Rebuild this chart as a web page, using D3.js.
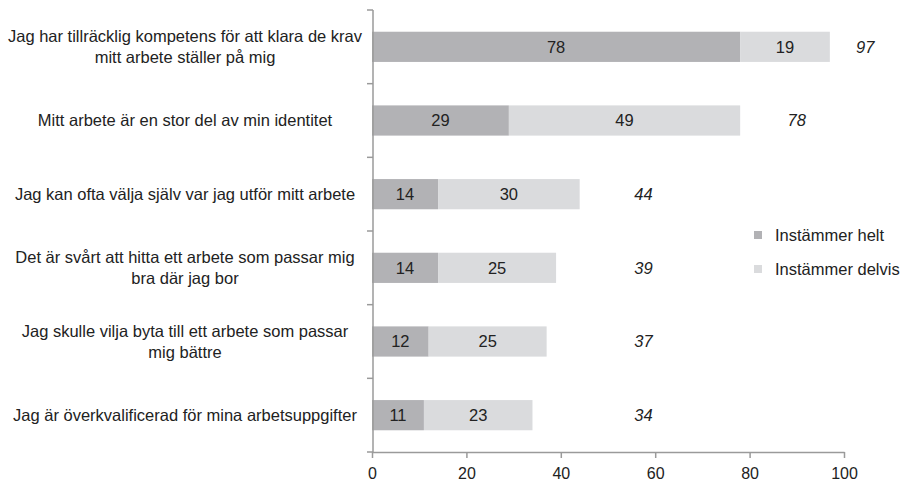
<!DOCTYPE html>
<meta charset="utf-8">
<script src="https://d3js.org/d3.v7.min.js"></script>
<style>
  body { margin: 0; background: #fff; }
  text { font-family: "Liberation Sans", Arial, sans-serif; }
</style>
<div id="chart"></div>
<script>
    // data
    var categories = [
        ["Jag har tillräcklig kompetens för att klara de krav", "mitt arbete ställer på mig"],
        ["Mitt arbete är en stor del av min identitet"],
        ["Jag kan ofta välja själv var jag utför mitt arbete"],
        ["Det är svårt att hitta ett arbete som passar mig", "bra där jag bor"],
        ["Jag skulle vilja byta till ett arbete som passar", "mig bättre"],
        ["Jag är överkvalificerad för mina arbetsuppgifter"]
    ];
    var helt = [78, 29, 14, 14, 12, 11];
    var delvis = [19, 49, 30, 25, 25, 23];
    var totals = [97, 78, 44, 39, 37, 34];
    var seriesNames = ["Instämmer helt", "Instämmer delvis"];
    var xTicks = [0, 20, 40, 60, 80, 100];

    var W = 901, H = 481;
    var colors = ["#b2b2b5", "#dadbdd"];
    var axisColor = "#9a9a9a";
    var textColor = "#222";
    var fs = "16.5px";

    var svg = d3.select("#chart").append("svg")
        .attr("width", W).attr("height", H);

    var x = d3.scaleLinear().domain([0, 100]).range([372, 844]);
    var y = d3.scaleBand()
        .domain(d3.range(categories.length))
        .range([10, 452])
        .paddingInner(0.59)
        .paddingOuter(0.295);

    var rows = d3.range(categories.length).map(function (i) {
        return { i: i, helt: helt[i], delvis: delvis[i], total: totals[i] };
    });

    // bars
    var g = svg.append("g");
    g.selectAll("rect.helt").data(rows).enter().append("rect")
        .attr("x", x(0))
        .attr("y", function (d) { return y(d.i); })
        .attr("width", function (d) { return x(d.helt) - x(0); })
        .attr("height", y.bandwidth())
        .attr("fill", colors[0]);
    g.selectAll("rect.delvis").data(rows).enter().append("rect")
        .attr("x", function (d) { return x(d.helt); })
        .attr("y", function (d) { return y(d.i); })
        .attr("width", function (d) { return x(d.helt + d.delvis) - x(d.helt); })
        .attr("height", y.bandwidth())
        .attr("fill", colors[1]);

    // value labels in the segments
    g.selectAll("text.v1").data(rows).enter().append("text")
        .attr("x", function (d) { return x(d.helt / 2); })
        .attr("y", function (d) { return y(d.i) + y.bandwidth() / 2; })
        .attr("dy", "0.35em")
        .attr("text-anchor", "middle")
        .style("font-size", fs).attr("fill", textColor)
        .text(function (d) { return d.helt; });
    g.selectAll("text.v2").data(rows).enter().append("text")
        .attr("x", function (d) { return x(d.helt + d.delvis / 2); })
        .attr("y", function (d) { return y(d.i) + y.bandwidth() / 2; })
        .attr("dy", "0.35em")
        .attr("text-anchor", "middle")
        .style("font-size", fs).attr("fill", textColor)
        .text(function (d) { return d.delvis; });

    // totals in italics, placed like the original labels
    var totalAt = [104.5, 90, 57.5, 57.5, 57.5, 57.5];
    g.selectAll("text.tot").data(rows).enter().append("text")
        .attr("x", function (d) { return x(totalAt[d.i]); })
        .attr("y", function (d) { return y(d.i) + y.bandwidth() / 2; })
        .attr("dy", "0.35em")
        .attr("text-anchor", "middle")
        .style("font-size", fs).style("font-style", "italic")
        .attr("fill", textColor)
        .text(function (d) { return d.total; });

    // y axis line with ticks between categories
    svg.append("line")
        .attr("x1", 373).attr("x2", 373)
        .attr("y1", 10).attr("y2", 452)
        .attr("stroke", axisColor).attr("stroke-width", 1.5);
    var step = y.step();
    svg.selectAll("line.yt").data(d3.range(categories.length + 1)).enter().append("line")
        .attr("x1", 367).attr("x2", 373)
        .attr("y1", function (k) { return 10 + k * step; })
        .attr("y2", function (k) { return 10 + k * step; })
        .attr("stroke", axisColor).attr("stroke-width", 1.5);

    // category labels
    var lab = svg.append("g");
    rows.forEach(function (d) {
        var lines = categories[d.i];
        var cy = y(d.i) + y.bandwidth() / 2;
        var t = lab.append("text")
            .attr("text-anchor", "middle")
            .style("font-size", fs).attr("fill", textColor);
        lines.forEach(function (s, k) {
            t.append("tspan")
                .attr("x", 185)
                .attr("y", cy + (k - (lines.length - 1) / 2) * 21.5)
                .attr("dy", "0.35em")
                .text(s);
        });
    });

    // x axis
    var xa = svg.append("g")
        .attr("transform", "translate(0,452)")
        .call(d3.axisBottom(x).tickValues(xTicks).tickSize(6).tickSizeOuter(0));
    xa.select(".domain").attr("stroke", axisColor).attr("stroke-width", 1.5);
    xa.selectAll(".tick line").attr("stroke", axisColor).attr("stroke-width", 1.5);
    xa.selectAll(".tick text")
        .attr("y", 16)
        .style("font-size", "16px")
        .style("font-family", "'Liberation Sans', Arial, sans-serif")
        .attr("fill", textColor);

    // legend
    var leg = svg.append("g").attr("transform", "translate(754,231)");
    seriesNames.forEach(function (n, k) {
        leg.append("rect")
            .attr("x", 0).attr("y", k * 34)
            .attr("width", 8).attr("height", 8)
            .attr("fill", colors[k]);
        leg.append("text")
            .attr("x", 21).attr("y", k * 34 + 4)
            .attr("dy", "0.35em")
            .style("font-size", fs).attr("fill", textColor)
            .text(n);
    });
</script>
